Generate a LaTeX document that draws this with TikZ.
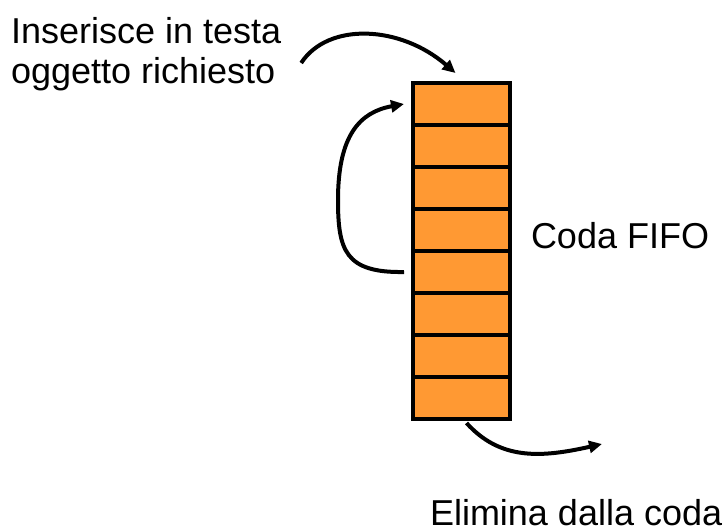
\documentclass[tikz,border=0pt]{standalone}
\usepackage{fontspec}
\setmainfont{Liberation Sans}
\usetikzlibrary{arrows.meta}
\definecolor{cellorange}{HTML}{FF9933}
\tikzset{
  cell/.style={draw=black, line width=3.5pt, fill=cellorange, minimum width=97pt, minimum height=42pt, inner sep=0pt, outer sep=0pt},
  lbl/.style={inner sep=0pt, outer sep=0pt, font=\fontsize{36}{40}\selectfont},
  arr/.style={line width=4pt, -{Triangle[length=13pt,width=12pt]}}
}
\begin{document}
\begin{tikzpicture}[x=1pt,y=-1pt]
\useasboundingbox (0,0) rectangle (728,532);
\foreach \i in {1,...,8}{
  \node[cell] (cell\i) at (461.5,{104+42*(\i-1)}) {};
}
\node[lbl, anchor=base west] (t1) at (11,44) {Inserisce in testa};
\node[lbl, anchor=base west] (t2) at (11,84) {oggetto richiesto};
\node[lbl, anchor=base west] (fifo) at (531,248) {Coda FIFO};
\node[lbl, anchor=base west] (elim) at (430,525) {Elimina dalla coda};
\coordinate (s1) at ([shift={(26,-21)}]t2.base east);
\draw[arr] (s1) .. controls (328,22) and (400,25) .. ([shift={(-6,-10)}]cell1.north);
\draw[arr] ([xshift=-9pt]cell5.west) .. controls (345,273) and (338,250) .. (338,200)
  .. controls (338,135) and (360,112) .. ([xshift=-9pt]cell1.west);
\draw[arr] ([shift={(5,4)}]cell8.south) .. controls (500,460) and (540,458) .. (602,444);
\end{tikzpicture}
\end{document}
